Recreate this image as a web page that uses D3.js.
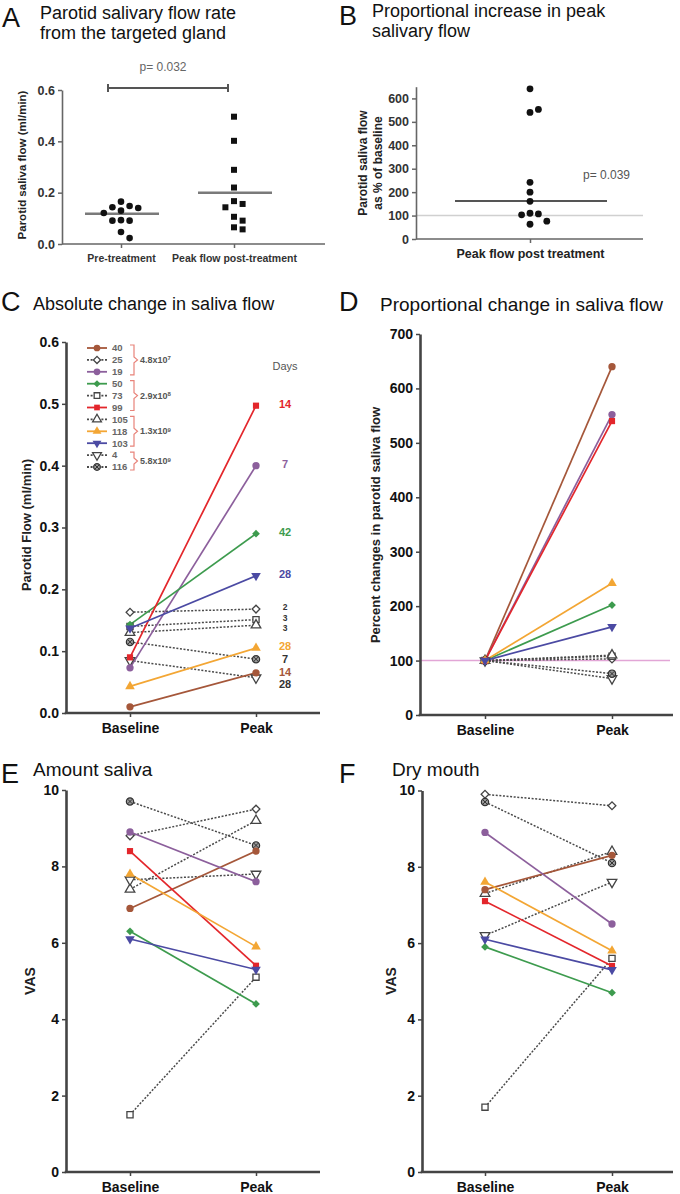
<!DOCTYPE html>
<html><head><meta charset="utf-8">
<script src="https://cdn.jsdelivr.net/npm/d3@7"></script>
<style>
body{margin:0;background:#fff}
svg{display:block}
text{font-family:"Liberation Sans",Arial,Helvetica,sans-serif}
</style>
</head><body>
<svg id="c" width="680" height="1194"></svg>
<script>
// ---------------- DATA ----------------
// Panel A
const flowGroups = ["Pre-treatment", "Peak flow post-treatment"];
const preFlow  = [0.165, 0.148, 0.143, 0.140, 0.130, 0.121, 0.093, 0.091, 0.091, 0.047, 0.023];
const peakFlow = [0.496, 0.402, 0.289, 0.220, 0.167, 0.156, 0.143, 0.106, 0.091, 0.065, 0.057];
const flowMeans = [0.118, 0.200];
const flowTicks = [0, 0.2, 0.4, 0.6];
const pValueA = "p= 0.032";
// Panel B
const propGroup = ["Peak flow post treatment"];
const propPeakAll = [641, 540, 553, 242, 200, 161, 110, 107, 103, 76, 63];
const propMedian = 162;
const propTicks = [0, 100, 200, 300, 400, 500, 600];
const pValueB = "p= 0.039";
// Patients (C-F)
const timepoints = ["Baseline", "Peak"];
const patients = ["40", "25", "19", "50", "73", "99", "105", "118", "103", "4", "116"];
const patientColor = ["#a5573a", "#555555", "#8c5f9c", "#3d9b4e", "#555555", "#e3262b", "#555555", "#f3a634", "#4b4aa3", "#555555", "#555555"];
const patientMarker = ["circle", "diamond-open", "circle", "diamond", "square-open", "square", "triangle-open", "triangle", "triangle-down", "triangle-down-open", "circle-cross"];
const patientDashed = [false, true, false, false, true, false, true, false, false, true, true];
const doseBase = ["4.8x10", "2.9x10", "1.3x10", "5.8x10"];
const doseExp = ["7", "8", "9", "9"];
const doseGroupSize = [3, 3, 3, 2];
// Panel C
const flowBaseline = [0.010, 0.163, 0.073, 0.143, 0.140, 0.090, 0.130, 0.043, 0.137, 0.085, 0.115];
const flowPeak     = [0.065, 0.168, 0.400, 0.290, 0.151, 0.497, 0.142, 0.105, 0.222, 0.057, 0.087];
const peakDays     = ["14", "2", "7", "42", "3", "14", "3", "28", "28", "28", "7"];
const flowTicksC = [0, 0.1, 0.2, 0.3, 0.4, 0.5, 0.6];
// Panel D
const propBaseline = [100, 100, 100, 100, 100, 100, 100, 100, 100, 100, 100];
const propPeak     = [640, 103, 552, 202, 108, 540, 110, 242, 162, 67, 76];
const propTicksD = [0, 100, 200, 300, 400, 500, 600, 700];
// Panel E
const salivaBaseline = [6.9, 8.8, 8.9, 6.3, 1.5, 8.4, 7.4, 7.8, 6.1, 7.65, 9.7];
const salivaPeak     = [8.4, 9.5, 7.6, 4.4, 5.1, 5.4, 9.2, 5.9, 5.3, 7.8, 8.55];
// Panel F
const dryBaseline = [7.4, 9.9, 8.9, 5.9, 1.7, 7.1, 7.3, 7.6, 6.1, 6.2, 9.7];
const dryPeak     = [8.3, 9.6, 6.5, 4.7, 5.6, 5.4, 8.4, 5.8, 5.3, 7.6, 8.1];
const vasTicks = [0, 2, 4, 6, 8, 10];

// ---------------- DRAWING ----------------
const svg = d3.select("#c");

function letter(x, y, t) {
  svg.append("text").attr("x", x).attr("y", y).attr("font-size", 27).attr("fill", "#111").text(t);
}
function title(x, y, lines, fs) {
  lines.forEach((l, i) => svg.append("text").attr("x", x).attr("y", y + i * 20)
    .attr("font-size", fs || 18).attr("fill", "#111").text(l));
}
function styleAxis(g, o) {
  g.select(".domain").attr("stroke", o.color).attr("stroke-width", o.width);
  g.selectAll(".tick line").attr("stroke", o.color).attr("stroke-width", o.tw || 1.5);
  g.selectAll(".tick text").attr("font-size", o.fs).attr("font-weight", "bold").attr("fill", o.tc || "#222")
    .attr("font-family", "'Liberation Sans', Arial, sans-serif");
}
function yLabel(x, y, t, fs) {
  svg.append("text").attr("transform", `translate(${x},${y}) rotate(-90)`).attr("text-anchor", "middle")
    .attr("font-size", fs).attr("font-weight", "bold").attr("fill", "#222").text(t);
}

function marker(g, type, color, x, y, s) {
  s = s || 1;
  const open = type.endsWith("-open");
  const base = type.replace("-open", "");
  let sym = d3.symbolCircle, rot = 0, size = 42 * s;
  if (base === "square") { sym = d3.symbolSquare; size = 38 * s; }
  else if (base === "diamond") { sym = d3.symbolSquare; rot = 45; size = 30 * s; }
  else if (base === "triangle") { sym = d3.symbolTriangle; size = 40 * s; }
  else if (base === "triangle-down") { sym = d3.symbolTriangle; rot = 180; size = 40 * s; }
  const p = g.append("path").attr("d", d3.symbol().type(sym).size(size)())
    .attr("transform", `translate(${x},${y}) rotate(${rot})`);
  if (base === "circle-cross") {
    p.attr("fill", "#9a9a9a").attr("stroke", "#333").attr("stroke-width", 1.2);
    const r = 2.2 * Math.sqrt(s);
    g.append("path").attr("d", `M${x - r},${y - r}L${x + r},${y + r}M${x - r},${y + r}L${x + r},${y - r}`)
      .attr("stroke", "#333").attr("stroke-width", 1);
  } else if (open) {
    p.attr("fill", "#fff").attr("stroke", "#444").attr("stroke-width", 1.3);
  } else {
    p.attr("fill", color);
  }
}

function swarm(values, y, cx, d) {
  const placed = [];
  return values.map(v => {
    const py = y(v);
    const offs = [0];
    for (let k = 1; k < 6; k++) offs.push(k * d, -k * d);
    for (const o of offs) {
      const px = cx + o;
      if (placed.every(p => Math.hypot(p[0] - px, p[1] - py) >= d)) { placed.push([px, py]); return [px, py]; }
    }
    return [cx, py];
  });
}

// ---------- Panel A ----------
letter(2, 27, "A");
title(40, 19, ["Parotid salivary flow rate", "from the targeted gland"], 18);
{
  const y = d3.scaleLinear().domain([0, 0.6]).range([244, 90]);
  const x = d3.scalePoint().domain(flowGroups).range([121, 234]);
  const g = svg.append("g");
  const ya = g.append("g").attr("transform", "translate(62,0)")
    .call(d3.axisLeft(y).tickValues(flowTicks).tickFormat(d3.format(".1f")).tickSize(4).tickSizeOuter(0));
  styleAxis(ya, { color: "#666", width: 1.6, fs: 12.5, tc: "#333" });
  g.append("line").attr("x1", 62).attr("x2", 325).attr("y1", 244).attr("y2", 244).attr("stroke", "#666").attr("stroke-width", 1.6);
  const xa = g.append("g").attr("transform", "translate(0,244)").call(d3.axisBottom(x).tickSize(4).tickSizeOuter(0));
  xa.select(".domain").remove();
  styleAxis(xa, { color: "#666", width: 1.6, fs: 10.5, tc: "#333" });
  xa.selectAll(".tick text").attr("dy", "1.05em");
  yLabel(26, 165, "Parotid saliva flow (ml/min)", 11.5);
  flowMeans.forEach((m, i) => g.append("line").attr("x1", x(flowGroups[i]) - 36).attr("x2", x(flowGroups[i]) + 38)
    .attr("y1", y(m)).attr("y2", y(m)).attr("stroke", "#7a7a7a").attr("stroke-width", 2.5));
  swarm(preFlow, y, x(flowGroups[0]), 8.6).forEach(p => g.append("circle").attr("cx", p[0]).attr("cy", p[1]).attr("r", 3.3).attr("fill", "#111"));
  swarm(peakFlow, y, x(flowGroups[1]), 8.6).forEach(p => g.append("rect").attr("x", p[0] - 3).attr("y", p[1] - 3).attr("width", 6).attr("height", 6).attr("fill", "#111"));
  g.append("path").attr("d", "M108,84V92M108,88H228M228,84V92").attr("stroke", "#555").attr("stroke-width", 2).attr("fill", "none");
  g.append("text").attr("x", 163).attr("y", 71).attr("text-anchor", "middle").attr("font-size", 12).attr("fill", "#666").text(pValueA);
}

// ---------- Panel B ----------
letter(339, 25, "B");
title(372, 17, ["Proportional increase in peak", "salivary flow"], 18);
{
  const y = d3.scaleLinear().domain([0, 650]).range([239, 86.7]);
  const x = d3.scalePoint().domain(propGroup).range([530, 530]);
  const g = svg.append("g");
  g.append("line").attr("x1", 416).attr("x2", 643).attr("y1", y(100)).attr("y2", y(100)).attr("stroke", "#d0d0d0").attr("stroke-width", 1.5);
  const ya = g.append("g").attr("transform", "translate(416,0)")
    .call(d3.axisLeft(y).tickValues(propTicks).tickSize(4).tickSizeOuter(0));
  styleAxis(ya, { color: "#666", width: 1.6, fs: 12.5, tc: "#333" });
  g.append("line").attr("x1", 416).attr("x2", 643).attr("y1", 239).attr("y2", 239).attr("stroke", "#666").attr("stroke-width", 1.6);
  const xa = g.append("g").attr("transform", "translate(0,239)").call(d3.axisBottom(x).tickSize(4).tickSizeOuter(0));
  xa.select(".domain").remove();
  styleAxis(xa, { color: "#666", width: 1.6, fs: 12.5, tc: "#222" });
  xa.selectAll(".tick text").attr("dy", "0.95em");
  svg.append("text").attr("transform", "translate(367,163) rotate(-90)").attr("text-anchor", "middle")
    .attr("font-size", 12).attr("font-weight", "bold").attr("fill", "#222").text("Parotid saliva flow");
  svg.append("text").attr("transform", "translate(382,163) rotate(-90)").attr("text-anchor", "middle")
    .attr("font-size", 12).attr("font-weight", "bold").attr("fill", "#222").text("as % of baseline");
  g.append("line").attr("x1", 455).attr("x2", 607).attr("y1", y(propMedian)).attr("y2", y(propMedian)).attr("stroke", "#555").attr("stroke-width", 2);
  swarm(propPeakAll, y, x(propGroup[0]), 8.4).forEach(p => g.append("circle").attr("cx", p[0]).attr("cy", p[1]).attr("r", 3.4).attr("fill", "#111"));
  g.append("text").attr("x", 583).attr("y", 179).attr("font-size", 12).attr("fill", "#555").text(pValueB);
}

// ---------- generic paired panel ----------
function paired(o) {
  const y = d3.scaleLinear().domain(o.domain).range([o.y0, o.y1]);
  const x = d3.scalePoint().domain(timepoints).range([o.xb, o.xp]);
  const g = svg.append("g");
  if (o.refLine !== undefined) {
    g.append("line").attr("x1", o.ax0).attr("x2", o.ax1 - 3).attr("y1", y(o.refLine)).attr("y2", y(o.refLine))
      .attr("stroke", "#e2a6d6").attr("stroke-width", 1.5);
  }
  const ya = g.append("g").attr("transform", `translate(${o.ax0},0)`)
    .call(d3.axisLeft(y).tickValues(o.ticks).tickFormat(o.fmt || (d => d)).tickSize(4).tickSizeOuter(0));
  styleAxis(ya, { color: "#444", width: 2.6, fs: 14, tc: "#111" });
  g.append("line").attr("x1", o.ax0 - 1.3).attr("x2", o.ax1).attr("y1", o.y0).attr("y2", o.y0).attr("stroke", "#444").attr("stroke-width", 2.6);
  const xa = g.append("g").attr("transform", `translate(0,${o.y0})`).call(d3.axisBottom(x).tickSize(4).tickSizeOuter(0));
  xa.select(".domain").remove();
  styleAxis(xa, { color: "#444", width: 2.6, fs: 14, tc: "#111" });
  xa.selectAll(".tick text").attr("dy", "0.95em");
  const order = d3.range(patients.length).sort((a, b) => (patientDashed[b] - patientDashed[a]));
  order.forEach(i => {
    g.append("line").attr("x1", x("Baseline")).attr("y1", y(o.base[i])).attr("x2", x("Peak")).attr("y2", y(o.peak[i]))
      .attr("stroke", patientDashed[i] ? "#4a4a4a" : patientColor[i]).attr("stroke-width", patientDashed[i] ? 1.5 : 1.7)
      .attr("stroke-dasharray", patientDashed[i] ? "2,1.6" : null);
  });
  order.forEach(i => {
    marker(g, patientMarker[i], patientColor[i], x("Baseline"), y(o.base[i]));
    marker(g, patientMarker[i], patientColor[i], x("Peak"), y(o.peak[i]));
  });
  return { x, y, g };
}

// ---------- Panel C ----------
letter(1, 311, "C");
title(33, 310, ["Absolute change in saliva flow"], 18);
{
  const P = paired({ domain: [0, 0.6], y0: 713, y1: 342, xb: 130, xp: 256, ax0: 66, ax1: 320,
    ticks: flowTicksC, fmt: d3.format(".1f"), base: flowBaseline, peak: flowPeak });
  yLabel(31, 525, "Parotid Flow (ml/min)", 13);
  const g = P.g;
  const ry = i => 348 + i * 11.9;
  patients.forEach((p, i) => {
    g.append("line").attr("x1", 87).attr("x2", 107).attr("y1", ry(i)).attr("y2", ry(i))
      .attr("stroke", patientDashed[i] ? "#4a4a4a" : patientColor[i]).attr("stroke-width", 1.8)
      .attr("stroke-dasharray", patientDashed[i] ? "2,1.6" : null);
    marker(g, patientMarker[i], patientColor[i], 97, ry(i), 0.85);
    g.append("text").attr("x", 112).attr("y", ry(i)).attr("dy", "0.35em").attr("font-size", 9.5)
      .attr("font-weight", "bold").attr("fill", "#666").text(p);
  });
  let start = 0;
  doseGroupSize.forEach((n, k) => {
    const top = ry(start) - 3, bot = ry(start + n - 1) + 3, mid = (top + bot) / 2;
    g.append("path").attr("d", `M130,${top}H134V${mid - 3}L137.5,${mid}L134,${mid + 3}V${bot}H130`)
      .attr("fill", "none").attr("stroke", "#e8837a").attr("stroke-width", 1.2);
    const t = g.append("text").attr("x", 140).attr("y", mid).attr("dy", "0.35em").attr("font-size", 9)
      .attr("font-weight", "bold").attr("fill", "#555").text(doseBase[k]);
    t.append("tspan").attr("dy", "-0.45em").attr("font-size", 6).text(doseExp[k]);
    start += n;
  });
  g.append("text").attr("x", 285).attr("y", 370).attr("text-anchor", "middle").attr("font-size", 11).attr("fill", "#555").text("Days");
  const lab = patients.map((p, i) => {
    const small = patientDashed[i] && flowPeak[i] > 0.13;
    return { i, y: P.y(flowPeak[i]), fs: small ? 8.5 : 11 };
  }).sort((a, b) => a.y - b.y);
  for (let k = 1; k < lab.length; k++) {
    const gap = Math.max(lab[k].fs, lab[k - 1].fs) * 1.16;
    if (lab[k].y - lab[k - 1].y < gap) lab[k].y = lab[k - 1].y + gap;
  }
  lab.forEach(l => {
    g.append("text").attr("x", 285).attr("y", l.y - 2).attr("dy", "0.36em").attr("text-anchor", "middle")
      .attr("font-size", l.fs).attr("font-weight", "bold")
      .attr("fill", patientDashed[l.i] ? "#333" : patientColor[l.i]).text(peakDays[l.i]);
  });
}

// ---------- Panel D ----------
letter(339, 311, "D");
title(380, 311, ["Proportional change in saliva flow"], 19);
paired({ domain: [0, 700], y0: 715, y1: 334, xb: 485, xp: 612, ax0: 420, ax1: 673,
  ticks: propTicksD, base: propBaseline, peak: propPeak, refLine: 100 });
yLabel(380, 525, "Percent changes in parotid saliva flow", 13);

// ---------- Panel E ----------
letter(1, 783, "E");
title(33, 776, ["Amount saliva"], 19);
paired({ domain: [0, 10], y0: 1172, y1: 790, xb: 130, xp: 256, ax0: 66, ax1: 320,
  ticks: vasTicks, base: salivaBaseline, peak: salivaPeak });
yLabel(35, 981, "VAS", 14);

// ---------- Panel F ----------
letter(339, 783, "F");
title(392, 776, ["Dry mouth"], 19);
paired({ domain: [0, 10], y0: 1172, y1: 790.5, xb: 485, xp: 612, ax0: 422, ax1: 673,
  ticks: vasTicks, base: dryBaseline, peak: dryPeak });
yLabel(396, 981, "VAS", 14);
</script>
</body></html>
